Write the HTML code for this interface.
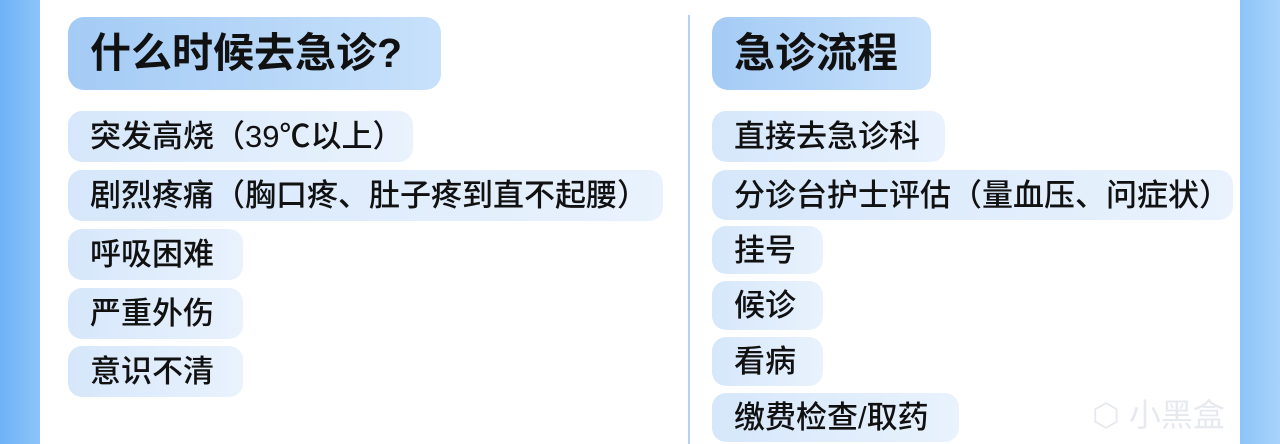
<!DOCTYPE html><html><head><meta charset="utf-8"><style>
body{margin:0;width:1280px;height:444px;overflow:hidden;background:linear-gradient(90deg,#6eb2f7 0,#8cc4f9 40px,#fff 40px,#fff 1240px,#8cc4f9 1240px,#a8d3fb 1280px);font-family:"Liberation Sans","Noto Sans CJK SC",sans-serif;position:relative}
.p{position:absolute;border-radius:14px;background:linear-gradient(90deg,#d6e7fb,#e9f2fd);color:#111;font-size:31px;line-height:1;display:flex;align-items:center;padding-left:22px;box-sizing:border-box;white-space:nowrap;font-weight:500}
.h{background:linear-gradient(90deg,#a4cbf5,#c8e1fb);font-weight:bold;font-size:41px;border-radius:16px}
.d{position:absolute;left:688px;top:15px;width:2px;height:429px;background:#b4d3f3}
</style></head><body>
<div class="d"></div>
<div class="p h" style="left:68px;top:17px;width:373px;height:73px">什么时候去急诊?</div>
<div class="p" style="left:68px;top:111px;width:345px;height:51px">突发高烧（39℃以上）</div>
<div class="p" style="left:68px;top:170px;width:595px;height:51px">剧烈疼痛（胸口疼、肚子疼到直不起腰）</div>
<div class="p" style="left:68px;top:229px;width:175px;height:51px">呼吸困难</div>
<div class="p" style="left:68px;top:288px;width:175px;height:51px">严重外伤</div>
<div class="p" style="left:68px;top:346px;width:175px;height:51px">意识不清</div>
<div class="p h" style="left:712px;top:17px;width:219px;height:73px">急诊流程</div>
<div class="p" style="left:712px;top:111px;width:233px;height:51px">直接去急诊科</div>
<div class="p" style="left:712px;top:170px;width:521px;height:50px">分诊台护士评估（量血压、问症状）</div>
<div class="p" style="left:712px;top:226px;width:111px;height:48px">挂号</div>
<div class="p" style="left:712px;top:281px;width:111px;height:49px">候诊</div>
<div class="p" style="left:712px;top:337px;width:111px;height:49px">看病</div>
<div class="p" style="left:712px;top:393px;width:247px;height:49px">缴费检查/取药</div>
<div style="position:absolute;left:1092px;top:390px;color:#e6e9ee;font-size:32px">⬡ 小黑盒</div>
</body></html>
